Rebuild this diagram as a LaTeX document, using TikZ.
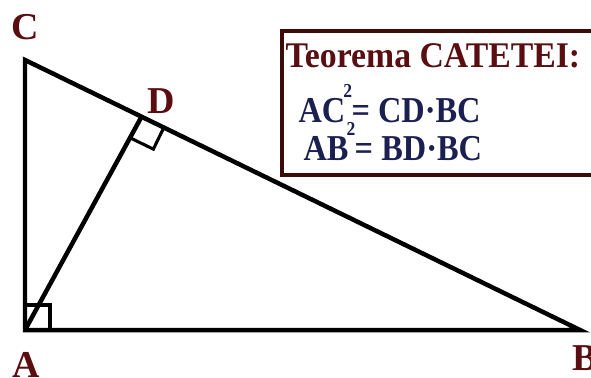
\documentclass[tikz,border=0pt]{standalone}
\usepackage{fontspec}
\setmainfont{Liberation Serif}
\usetikzlibrary{calc}
\definecolor{visiniu}{HTML}{5A0E12}
\definecolor{chenar}{HTML}{3D0A0A}
\definecolor{bleumarin}{HTML}{1B2050}
\newcommand{\patrat}{\kern-0.06em\raisebox{0.66em}{\fontsize{13}{13}\selectfont 2}\kern-0.02em}

\begin{document}
\begin{tikzpicture}[thick, scale=1.0,
  latura/.style={line width=3.2pt, line join=miter},
  unghi/.style={line width=2.2pt},
  varf/.style={font=\fontsize{27}{27}\selectfont\bfseries, text=visiniu, inner sep=0pt},
  titlu/.style={font=\fontsize{24}{24}\selectfont\bfseries, text=visiniu, inner sep=0pt, anchor=base west, yscale=1.07, transform shape},
  relatie/.style={font=\fontsize{24}{24}\selectfont\bfseries, text=bleumarin, inner sep=0pt, anchor=base west, xscale=0.96, yscale=1.08, transform shape}]
  \useasboundingbox (0,0) rectangle (14.775,9.425);
  % varfurile triunghiului
  \coordinate (A) at (0.625,1.175);
  \coordinate (B) at (14.5,1.175);
  \coordinate (C) at (0.625,7.925);
  \coordinate (D) at ($(C)!0.21!(B)$);
  \draw[latura] (A) -- (B) -- (C) -- cycle;
  \draw[latura] (A) -- (D);
  % unghiuri drepte
  \draw[unghi] ($(A)+(0.625,0)$) -- ($(A)+(0.625,0.625)$) -- ($(A)+(0,0.625)$);
  \coordinate (P1) at ($(D)!0.62cm!(B)$);
  \coordinate (P2) at ($(D)!0.6cm!-90:(B)$);
  \draw[unghi] (P1) -- ($(P1)+(P2)-(D)$) -- (P2);
  % etichete
  \node[varf, anchor=base] (lA) at (0.65,0) {A};
  \node[varf, anchor=base west] (lB) at (14.3,0.175) {B};
  \node[varf, anchor=base] (lC) at (0.625,8.45) {C};
  \node[varf, anchor=base] (lD) at (4.025,6.6) {D};
  % chenarul cu teorema
  \draw[chenar, line width=0.1cm] (7.05,8.65) rectangle (15.3,5.05);
  \node[titlu] (teorema) at (7.125,7.75) {Teorema CATETEI:};
  \node[relatie] (rel1) at (7.45,6.375) {AC\patrat= CD·BC};
  \node[relatie] (rel2) at (7.575,5.425) {AB\patrat= BD·BC};
\end{tikzpicture}
\end{document}
